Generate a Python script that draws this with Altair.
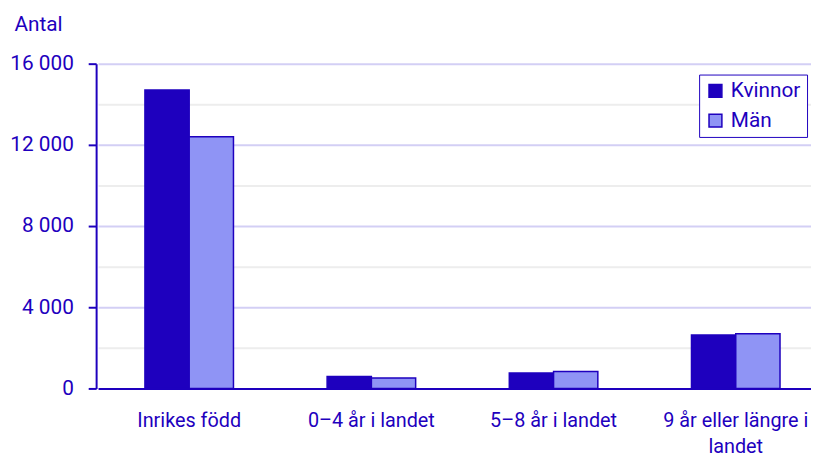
import altair as alt
import pandas as pd

categories = ["Inrikes född", "0–4 år i landet", "5–8 år i landet", "9 år eller längre i landet"]
series = ["Kvinnor", "Män"]
kvinnor = [14700, 590, 760, 2630]
man = [12400, 510, 830, 2700]
y_ticks = [0, 2000, 4000, 6000, 8000, 10000, 12000, 14000, 16000]
label_lines = {"9 år eller längre i landet": ["9 år eller längre i", "landet"]}

rows = []
for c, k, m in zip(categories, kvinnor, man):
    rows.append({"kategori": c, "kon": "Kvinnor", "antal": k})
    rows.append({"kategori": c, "kon": "Män", "antal": m})
df = pd.DataFrame(rows)

DARK = "#1e00be"
LIGHT = "#8f94f5"
FS = 21

label_expr = "datum.label"
for full, parts in label_lines.items():
    arr = "[" + ", ".join("'" + p + "'" for p in parts) + "]"
    label_expr = f"datum.label == '{full}' ? {arr} : " + label_expr

chart = alt.Chart(df).mark_bar(stroke=DARK, strokeWidth=1.5).encode(
    x=alt.X(
        "kategori:N",
        sort=categories,
        scale=alt.Scale(range=[2, 738], paddingInner=0.514, paddingOuter=0.257),
        axis=alt.Axis(
            title=None, labelAngle=0, labelFontSize=20, labelColor=DARK,
            labelPadding=22, ticks=False, tickSize=0, domainColor=DARK, domainWidth=2,
            labelExpr=label_expr, labelLineHeight=27, labelLimit=300,
        ),
    ),
    xOffset=alt.XOffset("kon:N", sort=series),
    y=alt.Y(
        "antal:Q",
        scale=alt.Scale(domain=[0, 16000], nice=False),
        axis=alt.Axis(
            values=y_ticks,
            title="Antal", titleAngle=0, titleAlign="left", titleBaseline="middle",
            titleX=-83, titleY=-40, titleFontSize=FS, titleFontWeight="normal", titleColor=DARK,
            labelFontSize=FS, labelColor=DARK, labelPadding=15,
            labelExpr="datum.value % 4000 === 0 ? replace(format(datum.value, ',d'), ',', ' ') : ''",
            tickSize=8, tickWidth=2,
            tickColor={"condition": {"test": "datum.value % 4000 === 0", "value": DARK}, "value": "transparent"},
            gridColor={"condition": {"test": "datum.value % 4000 === 0", "value": "#d3cff5"}, "value": "#ededed"},
            gridWidth=2,
            domainColor=DARK, domainWidth=2,
        ),
    ),
    color=alt.Color(
        "kon:N",
        scale=alt.Scale(domain=series, range=[DARK, LIGHT]),
        legend=alt.Legend(
            title=None, orient="none", legendX=609, legendY=11,
            strokeColor=DARK, padding=6, fillColor="white",
            symbolType="square", symbolSize=169, symbolStrokeColor=DARK, symbolStrokeWidth=1.5,
            labelFontSize=FS, labelColor=DARK, labelOffset=5, rowPadding=8,
        ),
    ),
).properties(
    width=711,
    height=328,
    autosize=alt.AutoSizeParams(type="none"),
    padding={"left": 89, "top": 54, "right": 11, "bottom": 65},
).configure(
    font="Roboto",
).configure_view(
    stroke="transparent",
)

chart.save("out.html", embed_options={"renderer": "svg", "actions": False})
